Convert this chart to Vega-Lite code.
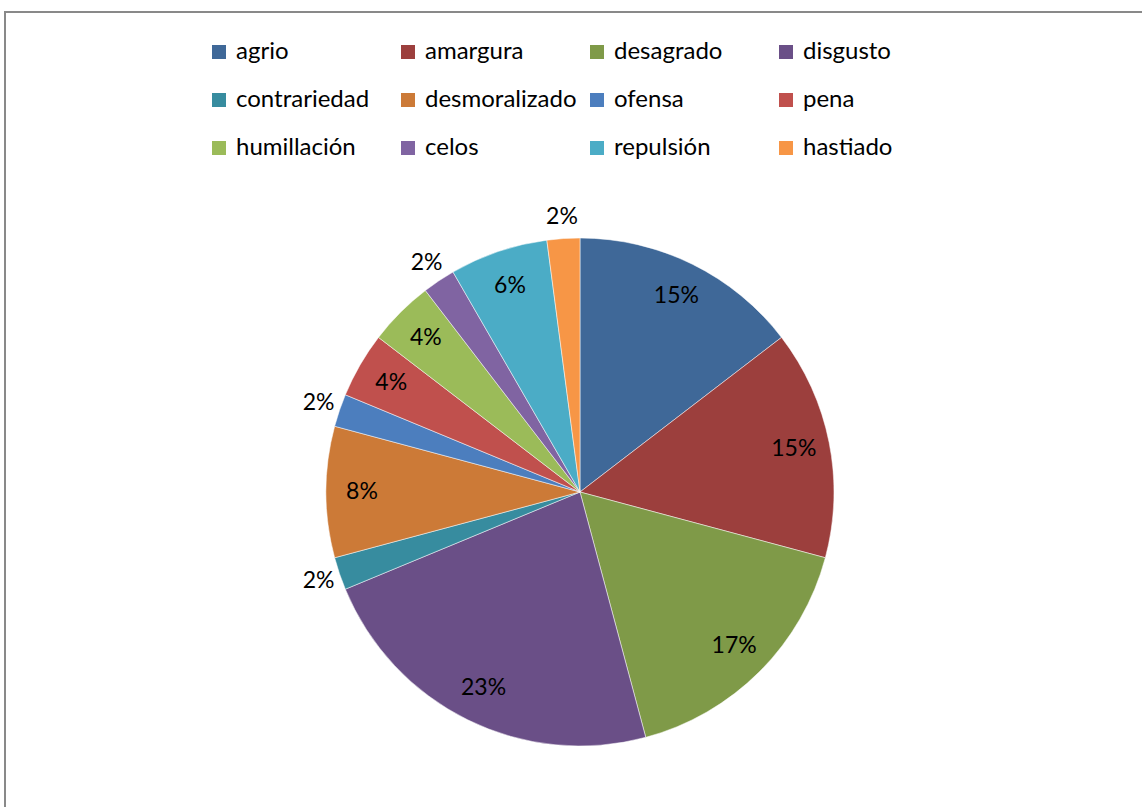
{
  "$schema": "https://vega.github.io/schema/vega-lite/v6.json",
  "width": 1142,
  "height": 807,
  "autosize": {"type": "fit", "contains": "padding"},
  "padding": {"left": 4, "top": 11, "right": -14, "bottom": -166},
  "background": "white",
  "config": {"view": {"stroke": "#898989", "strokeWidth": 1.5}},
  "data": {
    "values": [
      {"idx": 1, "emotion": "agrio", "count": 7, "label": "15%"},
      {"idx": 2, "emotion": "amargura", "count": 7, "label": "15%"},
      {"idx": 3, "emotion": "desagrado", "count": 8, "label": "17%"},
      {"idx": 4, "emotion": "disgusto", "count": 11, "label": "23%"},
      {"idx": 5, "emotion": "contrariedad", "count": 1, "label": "2%"},
      {"idx": 6, "emotion": "desmoralizado", "count": 4, "label": "8%"},
      {"idx": 7, "emotion": "ofensa", "count": 1, "label": "2%"},
      {"idx": 8, "emotion": "pena", "count": 2, "label": "4%"},
      {"idx": 9, "emotion": "humillación", "count": 2, "label": "4%"},
      {"idx": 10, "emotion": "celos", "count": 1, "label": "2%"},
      {"idx": 11, "emotion": "repulsión", "count": 3, "label": "6%"},
      {"idx": 12, "emotion": "hastiado", "count": 1, "label": "2%"}
    ]
  },
  "layer": [
    {
      "mark": {"type": "rect", "fill": "transparent", "stroke": "#898989", "strokeWidth": 1.5},
      "encoding": {}
    },
    {
      "mark": {"type": "arc", "outerRadius": 254, "stroke": "#ffffff", "strokeWidth": 0.5, "opacity": 1},
      "encoding": {
        "theta": {"field": "count", "type": "quantitative", "stack": true},
        "order": {"field": "idx", "type": "quantitative"},
        "color": {
          "field": "emotion",
          "type": "nominal",
          "scale": {
            "domain": ["agrio", "amargura", "desagrado", "disgusto", "contrariedad", "desmoralizado", "ofensa", "pena", "humillación", "celos", "repulsión", "hastiado"],
            "range": ["#3F6898", "#9C3F3D", "#7F9A48", "#6A4F87", "#378C9F", "#CC7A37", "#4C7EBE", "#C0504D", "#9BBB59", "#8064A2", "#4BACC6", "#F79646"]
          },
          "legend": {
            "orient": "none",
            "direction": "horizontal",
            "legendX": 202,
            "legendY": 28,
            "columns": 4,
            "gridAlign": "all",
            "title": null,
            "symbolType": "square",
            "symbolSize": 196,
            "symbolStrokeWidth": 0,
            "symbolOpacity": 1,
            "labelFont": "Lato",
            "labelFontSize": 24,
            "labelColor": "#000000",
            "labelOffset": 5,
            "labelLimit": 300,
            "columnPadding": 8,
            "rowPadding": 24
          }
        }
      }
    },
    {
      "mark": {"type": "text", "radius": 218, "font": "Lato", "fontSize": 23, "color": "#000000"},
      "encoding": {
        "theta": {"field": "count", "type": "quantitative", "stack": true},
        "order": {"field": "idx", "type": "quantitative"},
        "text": {"condition": {"test": "datum.count > 1", "field": "label"}, "value": ""}
      }
    },
    {
      "mark": {"type": "text", "radius": 276, "font": "Lato", "fontSize": 23, "color": "#000000"},
      "encoding": {
        "theta": {"field": "count", "type": "quantitative", "stack": true},
        "order": {"field": "idx", "type": "quantitative"},
        "text": {"condition": {"test": "datum.count == 1", "field": "label"}, "value": ""}
      }
    }
  ]
}
